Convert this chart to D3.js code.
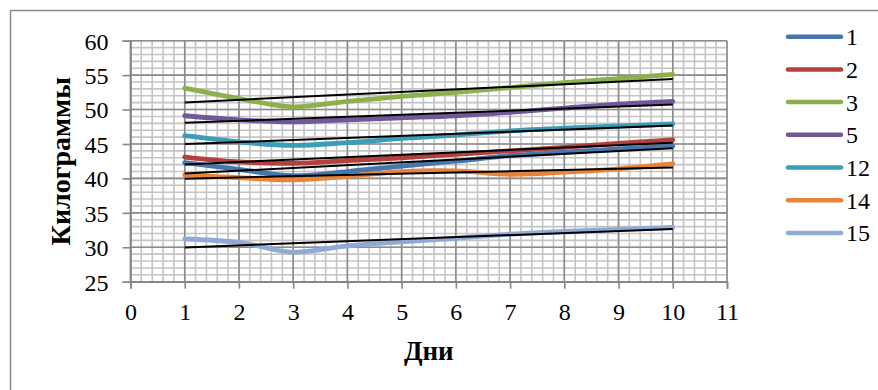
<!DOCTYPE html>
<html>
<head>
<meta charset="utf-8">
<script src="https://cdn.jsdelivr.net/npm/d3@7"></script>
<style>
  html, body { margin: 0; padding: 0; background: #fff; }
  svg { display: block; }
  text { font-family: "Liberation Serif", "Times New Roman", serif; fill: #000; }
</style>
</head>
<body>
<script>
// Weight by day for each animal, kg
const days = [1, 2, 3, 4, 5, 6, 7, 8, 9, 10];
const seriesNames = ["1", "2", "3", "5", "12", "14", "15"];
const s1  = [42.3, 41.3, 40.4, 41.0, 41.8, 42.5, 43.3, 43.8, 44.3, 44.7];
const s2  = [43.1, 42.4, 42.2, 42.6, 43.0, 43.5, 44.0, 44.5, 45.1, 45.6];
const s3  = [53.1, 51.6, 50.4, 51.2, 51.9, 52.5, 53.2, 53.9, 54.5, 55.1];
const s5  = [49.1, 48.5, 48.2, 48.5, 48.8, 49.1, 49.6, 50.2, 50.8, 51.2];
const s12 = [46.2, 45.3, 44.8, 45.2, 45.8, 46.3, 46.9, 47.3, 47.6, 47.9];
const s14 = [40.5, 40.1, 39.8, 40.3, 41.0, 41.1, 40.6, 40.9, 41.4, 42.1];
const s15 = [31.2, 30.7, 29.3, 30.2, 30.8, 31.3, 31.9, 32.3, 32.6, 32.9];
const seriesValues = [s1, s2, s3, s5, s12, s14, s15];
const seriesColors = ["#4675B0", "#B3403D", "#8DB04E", "#71589A", "#3D9DB8", "#E8843A", "#8FAAD6"];
const xTicks = [0, 1, 2, 3, 4, 5, 6, 7, 8, 9, 10, 11];
const yTicks = [25, 30, 35, 40, 45, 50, 55, 60];
const xTitle = "Дни";
const yTitle = "Килограммы";

const W = 878, H = 390;
const svg = d3.select("body").append("svg").attr("width", W).attr("height", H);

// outer chart frame
svg.append("rect")
  .attr("x", 10.5).attr("y", 10.5).attr("width", 1000).attr("height", 1000)
  .attr("fill", "none").attr("stroke", "#8a8a8a").attr("stroke-width", 1.5);

const x = d3.scaleLinear().domain([0, 11]).range([130.5, 727]);
const y = d3.scaleLinear().domain([25, 60]).range([281.7, 40.7]);

// minor grid
const grid = svg.append("g");
const minorX = d3.range(0, 11.0001, 0.2);
const minorY = d3.range(25, 60.0001, 1);
grid.selectAll(".mx").data(minorX).join("line")
  .attr("x1", d => x(d)).attr("x2", d => x(d))
  .attr("y1", y(25)).attr("y2", y(60))
  .attr("stroke", "#c4c4c4").attr("stroke-width", 1.6);
grid.selectAll(".my").data(minorY).join("line")
  .attr("y1", d => y(d)).attr("y2", d => y(d))
  .attr("x1", x(0)).attr("x2", x(11))
  .attr("stroke", "#c4c4c4").attr("stroke-width", 1.6);
// major grid
grid.selectAll(".Mx").data(xTicks).join("line")
  .attr("x1", d => x(d)).attr("x2", d => x(d))
  .attr("y1", y(25)).attr("y2", y(60))
  .attr("stroke", "#8c8c8c").attr("stroke-width", 1.6);
grid.selectAll(".My").data(yTicks).join("line")
  .attr("y1", d => y(d)).attr("y2", d => y(d))
  .attr("x1", x(0)).attr("x2", x(11))
  .attr("stroke", "#8c8c8c").attr("stroke-width", 1.6);

// axes
const xAxis = svg.append("g").attr("transform", `translate(0,${y(25)})`)
  .call(d3.axisBottom(x).tickValues(xTicks).tickSize(7).tickPadding(14).tickFormat(d3.format("d")));
const yAxis = svg.append("g").attr("transform", `translate(${x(0)},0)`)
  .call(d3.axisLeft(y).tickValues(yTicks).tickSize(8).tickPadding(14).tickFormat(d3.format("d")));
[xAxis, yAxis].forEach(a => {
  a.select(".domain").attr("stroke", "#868686").attr("stroke-width", 1.6);
  a.selectAll(".tick line").attr("stroke", "#868686").attr("stroke-width", 1.6);
  a.selectAll("text").style("font-family", '"Liberation Serif", serif').style("font-size", "24px").attr("fill", "#000");
});
yAxis.selectAll("text").attr("dy", "0.35em");

// series lines, smoothed
const line = d3.line()
  .x((d, i) => x(days[i]))
  .y(d => y(d))
  .curve(d3.curveCatmullRom.alpha(0.5));

const seriesG = svg.append("g");
seriesValues.forEach((vals, k) => {
  seriesG.append("path")
    .attr("d", line(vals))
    .attr("fill", "none")
    .attr("stroke", seriesColors[k])
    .attr("stroke-width", 4.8)
    .attr("stroke-linecap", "round")
    .attr("stroke-linejoin", "round");
});

// linear trend for each series
function fit(vals) {
  const mx = d3.mean(days), my = d3.mean(vals);
  const sxy = d3.sum(days, (d, i) => (d - mx) * (vals[i] - my));
  const sxx = d3.sum(days, d => (d - mx) * (d - mx));
  const b = sxy / sxx;
  return [my - b * mx, b];
}
const trendG = svg.append("g");
seriesValues.forEach(vals => {
  const [a, b] = fit(vals);
  const x0 = days[0], x1 = days[days.length - 1];
  trendG.append("line")
    .attr("x1", x(x0)).attr("y1", y(a + b * x0))
    .attr("x2", x(x1)).attr("y2", y(a + b * x1))
    .attr("stroke", "#000").attr("stroke-width", 2);
});

// axis titles
svg.append("text")
  .attr("x", (x(0) + x(11)) / 2).attr("y", 360)
  .attr("text-anchor", "middle")
  .style("font-size", "27px").style("font-weight", "bold")
  .text(xTitle);
svg.append("text")
  .attr("transform", `translate(70,${(y(25) + y(60)) / 2}) rotate(-90)`)
  .attr("text-anchor", "middle")
  .style("font-size", "28px").style("font-weight", "bold")
  .text(yTitle);

// legend
const legend = svg.append("g");
seriesNames.forEach((name, k) => {
  const ly = 36.7 + k * 32.7;
  legend.append("line")
    .attr("x1", 788).attr("x2", 841).attr("y1", ly).attr("y2", ly)
    .attr("stroke", seriesColors[k]).attr("stroke-width", 4.5)
    .attr("stroke-linecap", "round");
  legend.append("text")
    .attr("x", 846).attr("y", ly).attr("dy", "0.35em")
    .style("font-size", "24px")
    .text(name);
});
</script>
</body>
</html>
